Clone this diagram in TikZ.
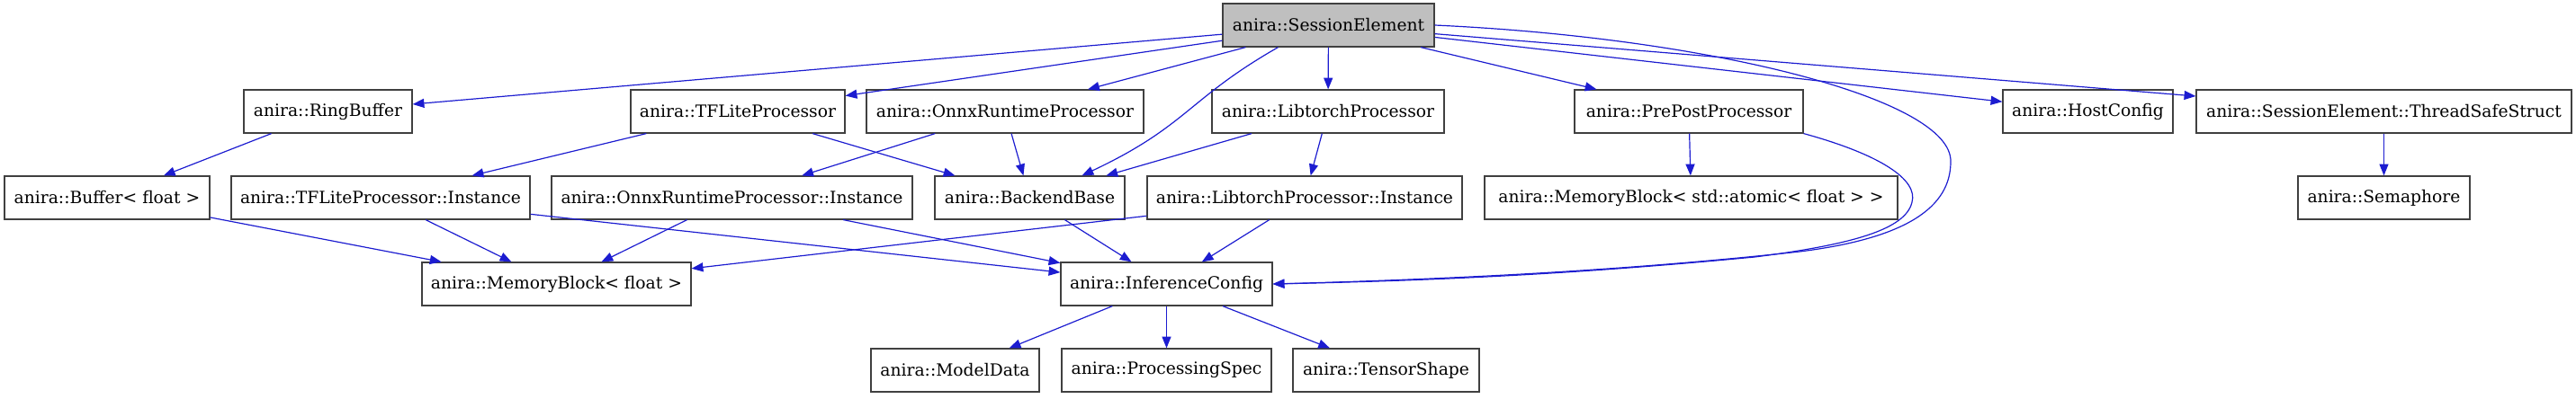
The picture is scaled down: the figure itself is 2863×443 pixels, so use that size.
\documentclass[tikz,border=0pt]{standalone}
\usepackage{fontspec}
\setmainfont{DejaVu Serif}
\usetikzlibrary{arrows.meta,calc}
\definecolor{edgeblue}{RGB}{28,28,208}
\definecolor{rootgray}{RGB}{191,191,191}

\begin{document}
\begin{tikzpicture}[x=0.025cm, y=-0.025cm,
    >={Triangle[length=3.2mm, width=2.5mm]},
    cls/.style={draw=black!75, line width=0.85pt, fill=white, minimum height=1.2cm,
      inner sep=0pt, font=\fontsize{13.3}{16}\selectfont},
    root/.style={cls, fill=rootgray},
    dep/.style={->, edgeblue, line width=0.85pt}]
    \useasboundingbox (0,0) rectangle (2863,443);
    % --- Rank 0: the documented class ---
    \node[root, minimum width=5.875cm] (sess) at (1476.5,28) {anira::SessionElement};
    % --- Rank 1 ---
    \node[cls, minimum width=4.675cm] (ring) at (364.5,124) {anira::RingBuffer};
    \node[cls, minimum width=5.95cm] (tfl) at (820,124) {anira::TFLiteProcessor};
    \node[cls, minimum width=7.7cm] (onnx) at (1117,124) {anira::OnnxRuntimeProcessor};
    \node[cls, minimum width=6.45cm] (lib) at (1476,124) {anira::LibtorchProcessor};
    \node[cls, minimum width=6.35cm] (prepost) at (1877,124) {anira::PrePostProcessor};
    \node[cls, minimum width=4.725cm] (host) at (2320.5,124) {anira::HostConfig};
    \node[cls, minimum width=10.425cm] (tss) at (2649.5,124) {anira::SessionElement::ThreadSafeStruct};
    % --- Rank 2 ---
    \node[cls, minimum width=5.7cm] (buf) at (119,220) {anira::Buffer< float >};
    \node[cls, minimum width=8.3cm] (tfli) at (423,220) {anira::TFLiteProcessor::Instance};
    \node[cls, minimum width=10.025cm] (onnxi) at (813.5,220) {anira::OnnxRuntimeProcessor::Instance};
    \node[cls, minimum width=5.275cm] (backend) at (1144.5,220) {anira::BackendBase};
    \node[cls, minimum width=8.75cm] (libi) at (1450,220) {anira::LibtorchProcessor::Instance};
    \node[cls, minimum width=11.475cm] (mbatomic) at (1879.5,220) {anira::MemoryBlock< std::atomic< float > >};
    \node[cls, minimum width=4.775cm] (sema) at (2649.5,220) {anira::Semaphore};
    % --- Rank 3 ---
    \node[cls, minimum width=7.475cm] (mbf) at (618.5,316) {anira::MemoryBlock< float >};
    \node[cls, minimum width=5.875cm] (infer) at (1296.5,316) {anira::InferenceConfig};
    % --- Rank 4 ---
    \node[cls, minimum width=4.675cm] (model) at (1061.5,412) {anira::ModelData};
    \node[cls, minimum width=5.825cm] (pspec) at (1296.5,412) {anira::ProcessingSpec};
    \node[cls, minimum width=5.175cm] (tshape) at (1540.5,412) {anira::TensorShape};
    % --- Edges from the root ---
    \draw[dep] (sess) -- (ring);
    \draw[dep] (sess) -- (tfl);
    \draw[dep] (sess) -- (onnx);
    \draw[dep] ($(sess.south)+(-56,0)$) .. controls (1320,110) and (1320,140) .. ($(backend.north)+(58,0)$);
    \draw[dep] (sess) -- (lib);
    \draw[dep] (sess) -- (prepost);
    \draw[dep] (sess.east) .. controls (1900,42) and (2170,110) .. (2168,180)
      .. controls (2168,230) and (2120,265) .. (2000,280)
      .. controls (1800,302) and (1600,311) .. (infer.east);
    \draw[dep] (sess) -- (host);
    \draw[dep] (sess) -- (tss);
    % --- Edges between the members ---
    \draw[dep] (ring) -- (buf);
    \draw[dep] (tfl) -- (tfli);
    \draw[dep] (tfl) -- (backend);
    \draw[dep] (onnx) -- (onnxi);
    \draw[dep] (onnx) -- (backend);
    \draw[dep] (lib) -- (backend);
    \draw[dep] (lib) -- (libi);
    \draw[dep] (prepost) -- (mbatomic);
    \draw[dep] (prepost.south east) .. controls (2090,172) and (2132,200) .. (2125,225)
      .. controls (2118,255) and (2060,272) .. (1950,286)
      .. controls (1750,305) and (1600,312) .. (infer.east);
    \draw[dep] (tss) -- (sema);
    \draw[dep] (buf) -- (mbf);
    \draw[dep] (tfli) -- (mbf);
    \draw[dep] (tfli) -- (infer);
    \draw[dep] (onnxi) -- (mbf);
    \draw[dep] (onnxi) -- (infer);
    \draw[dep] (backend) -- (infer);
    \draw[dep] (libi) -- (mbf);
    \draw[dep] (libi) -- (infer);
    \draw[dep] (infer) -- (model);
    \draw[dep] (infer) -- (pspec);
    \draw[dep] (infer) -- (tshape);
  \end{tikzpicture}
\end{document}
